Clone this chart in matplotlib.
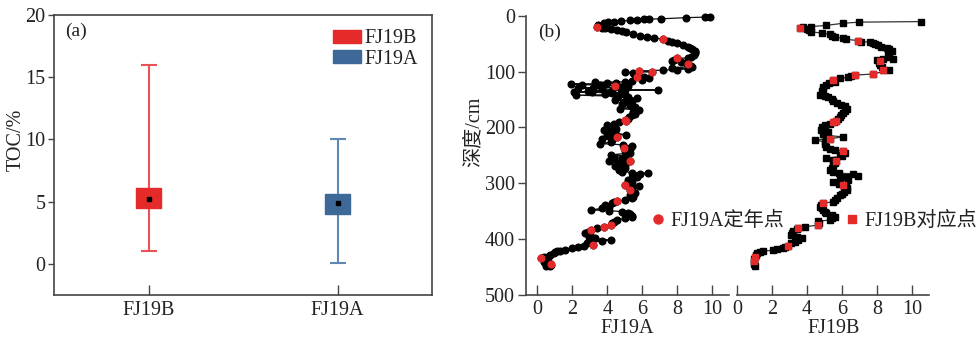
import matplotlib
matplotlib.use("Agg")
import matplotlib.pyplot as plt
from matplotlib.patches import Patch
from matplotlib.lines import Line2D
import numpy as np

plt.rcParams['font.family'] = ['Liberation Serif', 'Noto Sans CJK SC']
plt.rcParams['mathtext.fontset'] = 'stix'

# ---------------- Panel (a) data ----------------
cores = ["FJ19B", "FJ19A"]
toc_min = [1.0, 0.1]
toc_q1 = [4.46, 3.97]
toc_mean = [5.23, 4.88]
toc_q3 = [6.11, 5.63]
toc_max = [16.0, 10.0]
box_colors = ["#e52a2a", "#3d6898"]
whisker_colors = ["#ea5356", "#5f88b4"]

# ---------------- Panel (b) data: FJ19A ----------------
a_depth = [1, 2, 3, 5, 5.5, 6, 7, 8, 9, 10, 11, 13, 17, 19, 21, 22, 24, 26, 27, 29,
           32, 35, 38, 40, 41, 44, 46, 49, 52, 55, 57, 59, 62, 64, 67, 70, 73, 75, 76, 79,
           81, 83, 85, 87, 89, 91, 93, 95, 96, 97, 99, 100, 101, 103, 106, 108, 110, 112, 114, 116,
           118, 119, 120, 121, 122, 123, 124, 125, 126, 128, 129, 130, 131, 132, 133, 134, 135, 136, 137, 138,
           139, 140, 141, 142, 144, 146, 148, 151, 153, 155, 157, 160, 163, 166, 169, 172, 175, 178, 181, 184,
           187, 188, 191, 193, 196, 199, 202, 204, 207, 210, 213, 214, 216, 217, 220, 223, 226, 229, 231, 233,
           236, 238, 240, 243, 246, 249, 251, 254, 257, 260, 261, 264, 267, 270, 273, 276, 279, 281, 282, 284,
           286, 288, 291, 294, 297, 300, 303, 305, 306, 309, 312, 315, 318, 321, 324, 327, 330, 332, 334, 336,
           339, 342, 345, 348, 349, 351, 353, 355, 358, 360, 363, 366, 369, 372, 375, 378, 381, 384, 387, 390,
           393, 396, 399, 402, 404, 406, 408, 411, 413, 415, 417, 419, 421, 422, 424, 426, 428, 430, 432, 434,
           436, 438, 440, 442, 444, 446, 448, 449]
a_toc = [9.9, 9.6, 8.5, 7.1, 6.4, 6.1, 5.7, 5.3, 4.8, 4.4, 4.05, 3.8, 3.45, 3.4, 3.7, 3.9, 4.2, 4.55, 4.85, 5.1,
         5.45, 5.9, 6.3, 6.65, 7.2, 7.5, 7.7, 8.0, 8.35, 8.65, 8.75, 8.85, 9.0, 9.05, 9.0, 8.95, 8.8, 8.65, 8.0, 7.8,
         7.7, 8.25, 8.5, 8.6, 8.8, 8.85, 7.7, 8.65, 8.0, 7.2, 5.8, 6.55, 5.0, 5.5, 5.6, 5.75, 6.1, 6.4, 6.0, 5.4,
         5.0, 3.3, 4.0, 4.5, 1.9, 2.55, 3.6, 4.45, 5.2, 4.8, 2.35, 3.2, 3.7, 5.0, 6.9, 2.9, 4.3, 2.1, 3.1, 4.8,
         4.3, 3.9, 5.0, 2.2, 4.6, 5.2, 5.7, 4.45, 5.4, 5.0, 4.85, 5.3, 5.6, 4.75, 5.8, 5.5, 5.6, 5.4, 5.25, 5.2,
         5.05, 5.1, 4.7, 4.4, 4.0, 4.3, 4.5, 3.8, 4.2, 4.45, 5.1, 4.0, 4.1, 4.55, 3.7, 4.3, 4.2, 3.6, 4.9, 5.4,
         4.95, 5.3, 5.2, 5.0, 5.3, 4.2, 5.0, 4.4, 4.85, 5.3, 4.1, 4.7, 5.0, 4.45, 5.0, 4.7, 4.85, 5.4, 6.35, 5.9,
         5.5, 5.7, 5.4, 5.2, 5.4, 5.2, 5.0, 5.8, 5.4, 5.3, 5.3, 5.5, 5.6, 5.3, 5.5, 5.4, 5.0, 4.55, 4.4, 4.3,
         3.9, 4.1, 3.7, 3.05, 4.1, 4.85, 5.2, 5.3, 5.4, 5.4, 5.0, 4.55, 4.4, 4.3, 4.2, 3.8, 3.4, 3.05, 2.9, 2.75,
         3.0, 2.95, 3.3, 4.2, 3.7, 3.0, 2.85, 3.2, 2.65, 2.3, 2.0, 1.6, 1.3, 1.15, 1.0, 0.95, 0.7, 0.65, 0.4, 0.2,
         0.4, 0.5, 0.6, 0.4, 0.55, 0.8, 0.75, 0.5]
a_dated_depth = [19, 41, 76, 87, 100, 99, 109, 125, 186, 188, 217, 236, 260, 303, 312, 332, 375, 378, 384, 411, 434, 445]
a_dated_toc = [3.4, 7.2, 8.0, 8.6, 6.55, 5.8, 5.7, 4.45, 5.0, 5.1, 4.55, 4.95, 5.3, 5.0, 5.3, 4.55, 4.2, 3.8, 3.05, 3.2, 0.2, 0.8]

# ---------------- Panel (b) data: FJ19B ----------------
b_depth = [10, 11, 13, 17, 19, 20, 22, 23, 25, 28, 31, 33, 36, 38, 40, 42, 44, 46, 47, 49,
           50, 52, 55, 58, 60, 62, 65, 69, 73, 77, 78, 79, 81, 84, 88, 92, 96, 97, 104, 106,
           108, 110, 112, 115, 117, 119, 121, 124, 127, 131, 135, 139, 142, 144, 146, 149, 152, 156, 159, 162,
           166, 170, 174, 178, 181, 185, 188, 190, 193, 196, 200, 204, 206, 208, 211, 214, 217, 220, 222, 226,
           230, 235, 238, 241, 242, 246, 249, 252, 255, 258, 260, 264, 268, 272, 276, 279, 282, 283, 287, 289,
           291, 294, 298, 301, 303, 306, 309, 312, 316, 319, 322, 326, 330, 333, 336, 339, 342, 345, 348, 351,
           354, 357, 360, 363, 366, 368, 372, 375, 378, 381, 383, 386, 390, 393, 396, 399, 402, 405, 408, 412,
           414, 416, 418, 420, 422, 424, 426, 429, 432, 436, 441, 445, 448]
b_toc = [10.55, 7.0, 6.07, 5.06, 4.25, 3.75, 3.6, 4.0, 4.1, 4.25, 4.83, 5.3, 5.45, 5.6, 6.07, 6.25, 6.93, 7.1, 7.6, 7.8,
         7.9, 8.05, 8.25, 8.55, 8.7, 8.85, 8.7, 8.65, 8.7, 8.35, 8.9, 8.0, 8.2, 8.1, 8.2, 8.3, 8.35, 8.7, 7.8, 6.76,
         6.5, 6.36, 5.88, 5.46, 5.5, 5.6, 5.27, 5.1, 4.93, 4.9, 4.85, 4.83, 4.73, 5.0, 5.2, 5.4, 5.5, 5.7, 5.95, 6.17,
         6.26, 6.15, 6.07, 5.95, 5.88, 5.75, 5.66, 5.55, 5.3, 5.0, 4.85, 4.8, 5.0, 5.2, 4.92, 5.1, 6.07, 5.3, 4.45, 5.0,
         5.05, 5.1, 5.3, 5.6, 6.07, 6.17, 5.9, 5.97, 5.1, 5.5, 5.68, 5.6, 5.5, 5.4, 5.3, 5.5, 5.8, 6.6, 6.93, 6.2,
         5.88, 6.36, 5.5, 5.8, 6.07, 6.2, 6.3, 6.26, 6.1, 6.0, 5.88, 5.7, 5.6, 5.5, 4.93, 4.8, 4.73, 4.85, 4.93, 5.0,
         5.1, 5.4, 5.6, 5.45, 5.3, 4.65, 4.7, 4.65, 3.9, 3.5, 3.4, 3.2, 3.15, 3.1, 3.4, 3.7, 3.5, 3.3, 3.1, 2.9,
         2.75, 2.64, 2.3, 2.06, 1.5, 1.3, 1.1, 1.05, 1.0, 0.98, 0.96, 0.98, 1.0]
b_match_depth = [22, 44, 81, 96, 104, 106, 115, 188, 190, 220, 242, 260, 303, 336, 375, 381, 412, 432, 440]
b_match_toc = [3.6, 6.93, 8.2, 8.35, 7.8, 6.76, 5.46, 5.66, 5.5, 5.3, 6.07, 5.68, 6.07, 4.93, 4.65, 3.5, 2.9, 1.0, 0.96]

W, H = 980, 342
fig = plt.figure(figsize=(W / 100, H / 100), dpi=100)
txt = "#222222"
spc = "#444444"
fs = 14.5

def px(l, r, t, b):
    return [l / W, 1 - b / H, (r - l) / W, (b - t) / H]

# ---------------- Panel (a) ----------------
ax = fig.add_axes(px(54, 432, 15, 295))
xpos = np.arange(len(cores))
for i in range(len(cores)):
    ax.errorbar(xpos[i], toc_mean[i],
                yerr=[[toc_mean[i] - toc_min[i]], [toc_max[i] - toc_mean[i]]],
                fmt='none', ecolor=whisker_colors[i], elinewidth=1.5, capsize=6, capthick=1.5, zorder=1)
    ax.bar(xpos[i], toc_q3[i] - toc_q1[i], bottom=toc_q1[i], width=0.13,
           color=box_colors[i], edgecolor=box_colors[i], zorder=2)
ax.plot(xpos, toc_mean, 's', color='black', markersize=2.5, zorder=3, linestyle='none')
ax.set_xlim(-0.5, 1.5)
ax.set_ylim(-2.5, 20)
ax.set_xticks(xpos)
ax.set_xticklabels(cores)
ax.set_yticks([0, 5, 10, 15, 20])
ax.tick_params(axis='y', direction='out', length=4, width=1, colors=spc, labelcolor=txt, labelsize=fs, pad=2)
ax.tick_params(axis='x', direction='in', length=7, width=1, colors=spc, labelcolor=txt, labelsize=fs, pad=4)
for s in ax.spines.values():
    s.set_color(spc)
    s.set_linewidth(1.2)
ax.set_ylabel("TOC/%", fontsize=fs, color=txt)
ax.yaxis.set_label_coords(-0.076, 0.554)
ax.text(0.03, 0.94, "(a)", transform=ax.transAxes, fontsize=14, color=txt, va='center', ha='left')
handles = [Patch(facecolor=box_colors[0], edgecolor=box_colors[0], label=cores[0]),
           Patch(facecolor=box_colors[1], edgecolor=box_colors[1], label=cores[1])]
ax.legend(handles=handles, loc='upper right', frameon=False, fontsize=fs,
          handlelength=1.35, handleheight=0.6, handletextpad=0.2, labelspacing=0.08,
          borderaxespad=0.1, bbox_to_anchor=(0.99, 0.985), labelcolor=txt)

# ---------------- Panel (b) left: FJ19A ----------------
axb = fig.add_axes(px(526, 729, 16, 294.7))
axb.plot(a_toc, a_depth, '-', color='#111111', linewidth=0.9, zorder=2, clip_on=False)
axb.plot(a_toc, a_depth, 'o', color='black', markersize=4.8, zorder=3, clip_on=False)
axb.plot(a_dated_toc, a_dated_depth, 'o', color='#e52a2a', markersize=4.8, zorder=4, clip_on=False)
axb.set_xlim(-0.65, 10.97)
axb.set_ylim(500, 0)
axb.set_xticks([0, 2, 4, 6, 8, 10])
axb.set_yticks([0, 100, 200, 300, 400, 500])
axb.spines['top'].set_visible(False)
axb.spines['right'].set_visible(False)
for s in ['left', 'bottom']:
    axb.spines[s].set_color(spc)
    axb.spines[s].set_linewidth(1.2)
axb.tick_params(axis='y', direction='out', length=6, width=1, colors=spc, labelcolor=txt, labelsize=fs, pad=2)
axb.tick_params(axis='x', direction='in', length=7, width=1, colors=spc, labelcolor=txt, labelsize=fs, pad=4)
axb.set_xlabel("FJ19A", fontsize=fs, color=txt, labelpad=0)
axb.set_ylabel("深度/cm", fontsize=fs, color=txt)
axb.yaxis.set_label_coords(-0.21, 0.584)
axb.text(0.06, 0.94, "(b)", transform=axb.transAxes, fontsize=14, color=txt, va='center', ha='left')

# ---------------- Panel (b) right: FJ19B ----------------
axc = fig.add_axes(px(737.3, 929.3, 16, 294.7))
axc.plot(b_toc, b_depth, '-', color='#333333', linewidth=0.9, zorder=2, clip_on=False)
axc.plot(b_toc, b_depth, 's', color='black', markersize=4.0, zorder=3, clip_on=False)
axc.plot(b_match_toc, b_match_depth, 's', color='#e52a2a', markersize=4.0, zorder=4, clip_on=False)
axc.set_xlim(0, 11)
axc.set_ylim(500, 0)
axc.set_xticks([0, 2, 4, 6, 8, 10])
axc.set_yticks([])
for s in ['top', 'right', 'left']:
    axc.spines[s].set_visible(False)
axc.spines['bottom'].set_color(spc)
axc.spines['bottom'].set_linewidth(1.2)
axc.tick_params(axis='x', direction='in', length=7, width=1, colors=spc, labelcolor=txt, labelsize=fs, pad=4)
axc.set_xlabel("FJ19B", fontsize=fs, color=txt, labelpad=0)

# legends for panel (b)
h1 = [Line2D([], [], marker='o', color='#e52a2a', linestyle='none', markersize=6.5)]
fig.legend(handles=h1, labels=["FJ19A定年点"], loc='center left', frameon=False,
           bbox_to_anchor=(650 / W, 1 - 221 / H), fontsize=fs, handlelength=0.8,
           handletextpad=0.2, borderpad=0, borderaxespad=0, labelcolor=txt)
h2 = [Line2D([], [], marker='s', color='#e52a2a', linestyle='none', markersize=6.0)]
fig.legend(handles=h2, labels=["FJ19B对应点"], loc='center left', frameon=False,
           bbox_to_anchor=(844 / W, 1 - 221 / H), fontsize=fs, handlelength=0.8,
           handletextpad=0.2, borderpad=0, borderaxespad=0, labelcolor=txt)

fig.savefig("out.png", dpi=100)
